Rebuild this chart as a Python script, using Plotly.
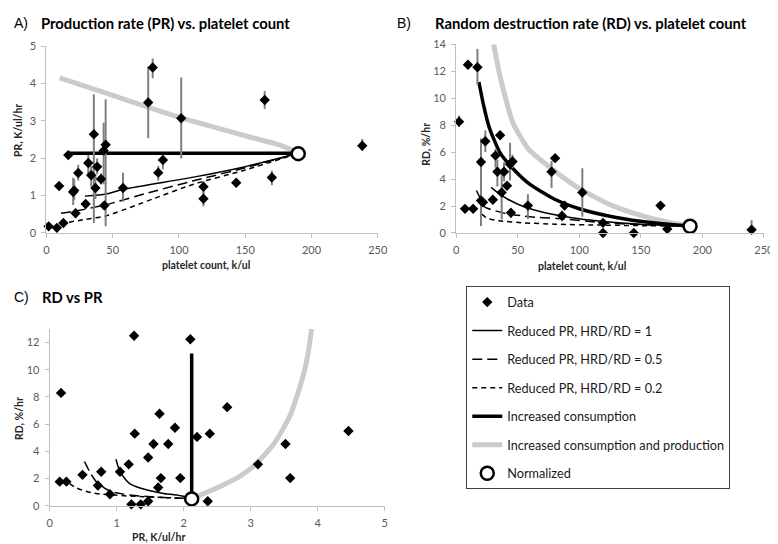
import plotly.graph_objects as go

# ---------------- data ----------------
# A) production rate vs platelet count (patients)
a_plt = [1.7, 7.9, 12.8, 9.6, 16.5, 20.2, 21.0, 22.0, 24.0, 29.6, 31.6, 33.8, 35.8, 37.0, 38.3, 41.2,
         43.2, 44.7, 43.7, 57.8, 76.8, 80.2, 84.4, 87.9, 101.7, 118.5, 118.5, 143.2, 164.7, 170.1, 238.3]
a_pr = [0.17, 0.13, 0.26, 1.25, 2.08, 1.09, 1.13, 0.52, 1.6, 0.77, 1.87, 1.54, 2.64, 1.2, 1.77, 1.44,
        2.2, 2.36, 0.73, 1.2, 3.49, 4.43, 1.61, 1.95, 3.07, 1.23, 0.91, 1.34, 3.56, 1.48, 2.33]
a_err_up = [0, 0, 0, 0, 0, 0.38, 0.3, 0, 0.22, 0, 0.22, 0.25, 1.07, 0.35, 0.22, 0.15,
            0.75, 1.22, 0, 0.41, 0.96, 0.24, 0.18, 0.14, 1.09, 0.15, 0.2, 0.05, 0.24, 0.18, 0.18]
a_err_dn = [0, 0, 0, 0, 0, 0.35, 0.25, 0, 0.2, 0, 0.3, 0.3, 2.38, 0.3, 0.2, 0.15,
            0.9, 2.19, 0, 0.37, 0.96, 0.29, 0.21, 0.25, 1.08, 0.2, 0.2, 0.05, 0.24, 0.21, 0.13]

# B) random destruction rate vs platelet count
b_plt = [2.4, 9.6, 7.2, 13.8, 17.3, 20.2, 20.2, 21.8, 23.7, 29.8, 32.0, 33.5, 35.7, 37.0, 38.9, 41.3,
         44.5, 43.8, 45.8, 58.3, 77.5, 80.4, 86.0, 88.1, 102.5, 119.3, 119.3, 144.3, 166.0, 171.5, 240.0]
b_rd = [8.26, 12.48, 1.79, 1.79, 12.3, 5.26, 2.41, 2.27, 6.8, 2.46, 5.74, 4.54, 7.25, 3.0, 4.54, 3.5,
        1.5, 5.1, 5.3, 2.03, 4.54, 5.55, 1.27, 2.03, 3.0, 0.75, 0.0, 0.0, 2.03, 0.29, 0.24]
b_err_up = [0.45, 0, 0, 0.3, 1.35, 1.75, 2.0, 0, 0.8, 0, 0.5, 0.9, 0, 1.7, 0.7, 0,
            0.3, 1.6, 0.5, 0.85, 0.8, 0.2, 0.4, 0.3, 1.8, 0.15, 0, 0, 0.2, 0.15, 0.7]
b_err_dn = [0.4, 0, 0, 0.3, 1.3, 1.9, 1.9, 0, 0.8, 0, 0.9, 1.1, 0, 2.0, 0.7, 0,
            0.35, 1.2, 0.5, 1.0, 1.2, 0.2, 0.4, 0.3, 1.8, 0.15, 0, 0, 0.2, 0.15, 0.24]

# C) RD vs PR
c_pr = [0.15, 0.25, 0.17, 0.49, 0.72, 0.77, 0.9, 1.05, 1.18, 1.27, 1.26, 1.22, 1.36, 1.47, 1.47, 1.55,
        1.62, 1.64, 1.66, 1.77, 1.87, 1.95, 2.1, 2.2, 2.36, 2.39, 2.65, 3.11, 3.52, 3.59, 4.46]
c_rd = [1.77, 1.77, 8.3, 2.27, 1.48, 2.5, 0.84, 2.5, 3.04, 5.3, 12.5, 0.1, 0.1, 0.33, 3.54, 4.54,
        1.34, 6.77, 2.03, 4.54, 5.74, 2.03, 12.25, 5.06, 0.33, 5.3, 7.25, 3.04, 4.54, 2.03, 5.5]

# model curves
a_icp_plt = [10, 45, 100, 150, 175, 190]
a_icp_pr = [4.15, 3.74, 3.1, 2.6, 2.36, 2.15]
a_ic_plt = [16, 18.5, 190]
a_ic_pr = [2.06, 2.13, 2.13]
a_r1_plt = [29, 45, 59, 111, 150, 190]
a_r1_pr = [0.98, 1.04, 1.17, 1.49, 1.77, 2.13]
a_r05_plt = [11, 22, 45, 80, 111, 150, 190]
a_r05_pr = [0.52, 0.58, 0.75, 1.1, 1.39, 1.74, 2.13]
a_r02_plt = [17, 30, 45, 80, 111, 150, 190]
a_r02_pr = [0.28, 0.36, 0.45, 0.9, 1.3, 1.68, 2.13]

b_icp_plt = [30.5, 35, 39, 46, 59, 80, 100, 125, 150, 175, 190]
b_icp_rd = [14.0, 11.9, 10.4, 8.2, 6.2, 4.6, 3.3, 2.1, 1.3, 0.75, 0.5]
b_ic_plt = [18.5, 22, 27, 36, 48, 60, 80, 100, 130, 160, 190]
b_ic_rd = [11.2, 9.6, 7.8, 5.9, 4.6, 3.6, 2.5, 1.8, 1.15, 0.75, 0.5]
b_r1_plt = [28.5, 35, 42, 55, 75, 100, 120, 150, 190]
b_r1_rd = [3.38, 2.9, 2.5, 1.95, 1.45, 1.05, 0.85, 0.65, 0.5]
b_r05_plt = [16.5, 20, 23, 28, 40, 60, 82, 120, 150, 190]
b_r05_rd = [3.15, 2.5, 1.95, 1.75, 1.45, 1.2, 1.08, 0.75, 0.62, 0.5]
b_r02_plt = [21, 25, 35, 55, 80, 120, 190]
b_r02_rd = [1.4, 1.1, 0.9, 0.75, 0.65, 0.58, 0.5]

c_icp_pr = [2.12, 2.4, 2.62, 2.85, 3.05, 3.34, 3.59, 3.78, 3.86, 3.91]
c_icp_rd = [0.5, 1.1, 1.6, 2.2, 2.94, 4.5, 6.65, 9.5, 11.3, 13.0]
c_ic_pr = [2.12, 2.12]
c_ic_rd = [0.5, 11.2]
c_r1_pr = [0.99, 1.02, 1.06, 1.12, 1.2, 1.35, 1.5, 1.7, 1.9, 2.12]
c_r1_rd = [3.42, 2.9, 2.45, 2.0, 1.6, 1.3, 1.1, 0.9, 0.78, 0.55]
c_r05_pr = [0.52, 0.56, 0.6, 0.66, 0.72, 0.82, 0.92, 1.1, 1.33, 1.7, 2.12]
c_r05_rd = [3.25, 2.85, 2.47, 2.0, 1.63, 1.3, 1.03, 0.85, 0.72, 0.6, 0.52]
c_r02_pr = [0.3, 0.38, 0.5, 0.62, 0.75, 0.95, 1.15, 1.4, 1.7, 2.12]
c_r02_rd = [1.63, 1.35, 1.12, 0.97, 0.86, 0.78, 0.72, 0.66, 0.6, 0.52]

norm_plt = 190
norm_pr = 2.12
norm_rd = 0.5

# ---------------- styling ----------------
FONT = "Lato"
GRAY = "#cbcbcb"
ERRC = "#7f7f7f"
AXC = "#bfbfbf"
TICKC = "#595959"

ICP = "Increased consumption and production"
IC = "Increased consumption"
R1 = "Reduced PR, HRD/RD = 1"
R05 = "Reduced PR, HRD/RD = 0.5"
R02 = "Reduced PR, HRD/RD = 0.2"

line_styles = {
    ICP: dict(color=GRAY, width=5, shape="spline", smoothing=0.6),
    IC: dict(color="black", width=3.5, shape="spline", smoothing=0.6),
    R1: dict(color="black", width=1.5, shape="spline", smoothing=0.6),
    R05: dict(color="black", width=1.5, dash="10px,5px", shape="spline", smoothing=0.6),
    R02: dict(color="black", width=1.5, dash="5px,4px", shape="spline", smoothing=0.6),
}
ranks = {"Data": 1, R1: 2, R05: 3, R02: 4, IC: 5, ICP: 6, "Normalized": 7}

fig = go.Figure()


def add_panel(xa, ya, curves, dx, dy, up, dn, nx, ny, show):
    for name, x, y in curves:
        style = dict(line_styles[name])
        if len(x) <= 3:
            # short straight segments: no smoothing so they stay flat
            style["shape"] = "linear"
        fig.add_trace(go.Scatter(x=x, y=y, mode="lines", name=name, line=style,
                                 xaxis=xa, yaxis=ya, showlegend=show, legendgroup=name, legendrank=ranks[name]))
    err = None
    if up is not None:
        err = dict(type="data", symmetric=False, array=up, arrayminus=dn, color=ERRC, thickness=2, width=0)
    fig.add_trace(go.Scatter(x=dx, y=dy, mode="markers", name="Data", error_y=err,
                             marker=dict(symbol="diamond", size=8, color="black"), cliponaxis=False,
                             xaxis=xa, yaxis=ya, showlegend=show, legendgroup="Data", legendrank=1))
    fig.add_trace(go.Scatter(x=[nx], y=[ny], mode="markers", name="Normalized", cliponaxis=False,
                             marker=dict(symbol="circle", size=13, color="white", line=dict(color="black", width=2.5)),
                             xaxis=xa, yaxis=ya, showlegend=show, legendgroup="Normalized", legendrank=7))


add_panel("x", "y", [(ICP, a_icp_plt, a_icp_pr), (R02, a_r02_plt, a_r02_pr), (R05, a_r05_plt, a_r05_pr),
                     (R1, a_r1_plt, a_r1_pr), (IC, a_ic_plt, a_ic_pr)],
          a_plt, a_pr, a_err_up, a_err_dn, norm_plt, norm_pr, True)
add_panel("x2", "y2", [(ICP, b_icp_plt, b_icp_rd), (R02, b_r02_plt, b_r02_rd), (R05, b_r05_plt, b_r05_rd),
                       (R1, b_r1_plt, b_r1_rd), (IC, b_ic_plt, b_ic_rd)],
          b_plt, b_rd, b_err_up, b_err_dn, norm_plt, norm_rd, False)
add_panel("x3", "y3", [(ICP, c_icp_pr, c_icp_rd), (R02, c_r02_pr, c_r02_rd), (R05, c_r05_pr, c_r05_rd),
                       (R1, c_r1_pr, c_r1_rd), (IC, c_ic_pr, c_ic_rd)],
          c_pr, c_rd, None, None, norm_pr, norm_rd, False)

W, H = 778, 544


def px(x):
    return x / W


def py(y):
    return 1 - y / H


def axis(d0, d1, rng, dtick, anchor, horiz):
    dom = [px(d0), px(d1)] if horiz else [py(d1), py(d0)]
    return dict(domain=dom, range=rng, dtick=dtick, tick0=0, anchor=anchor, showline=True, linecolor=AXC,
                linewidth=1, ticks="outside", ticklen=4, tickcolor=AXC, showgrid=False, zeroline=False,
                ticklabelstandoff=3, tickfont=dict(family=FONT, size=11, color=TICKC), fixedrange=True)


fig.update_layout(
    width=W, height=H, margin=dict(l=0, r=0, t=0, b=0),
    paper_bgcolor="white", plot_bgcolor="white",
    font=dict(family=FONT, color="black"),
    xaxis=axis(36, 373, [0, 250], 50, "y", True),
    yaxis=axis(32, 223, [0, 5], 1, "x", False),
    xaxis2=axis(452.7, 765.7, [0, 250], 50, "y2", True),
    yaxis2=axis(30, 223.3, [0, 14], 2, "x2", False),
    xaxis3=axis(39.3, 380, [0, 5], 1, "y3", True),
    yaxis3=axis(321.7, 502.7, [0, 13], 2, "x3", False),
    legend=dict(x=px(463), y=py(278), xanchor="left", yanchor="top", bordercolor="#404040", borderwidth=1,
                bgcolor="white", font=dict(family=FONT, size=12.7, color="#1a1a1a"), itemwidth=30,
                traceorder="grouped", tracegroupgap=9),
)

texts = [
    # (text, x, y, size, bold)
    ("A)", 1, 8, 14, False),
    ("Production rate (PR) vs. platelet count", 28, 8, 14.8, True),
    ("B)", 391, 8, 14, False),
    ("Random destruction rate (RD) vs. platelet count", 429, 8, 14.8, True),
    ("C)", 1, 289, 14, False),
    ("RD vs PR", 30, 289, 14.8, True),
]
for t, x, y, s, b in texts:
    fig.add_annotation(text=f"<b>{t}</b>" if b else t, x=px(x), y=py(y), xref="paper", yref="paper",
                       xanchor="left", yanchor="middle", showarrow=False,
                       font=dict(family=FONT if b else "Liberation Sans", size=s, color="black"))

axis_titles = [
    ("platelet count, k/ul", 198, 256, 0),
    ("PR, K/ul/hr", 7, 118, -90),
    ("platelet count, k/ul", 581, 257, 0),
    ("RD, %/hr", 422, 132, -90),
    ("PR, K/ul/hr", 150, 535, 0),
    ("RD, %/hr", 8, 413, -90),
]
for t, x, y, ang in axis_titles:
    fig.add_annotation(text=f"<b>{t}</b>", x=px(x), y=py(y), xref="paper", yref="paper", textangle=ang,
                       xanchor="center", yanchor="middle", showarrow=False,
                       font=dict(family=FONT, size=10.5, color="#262626"))

fig.write_html("out.html")
